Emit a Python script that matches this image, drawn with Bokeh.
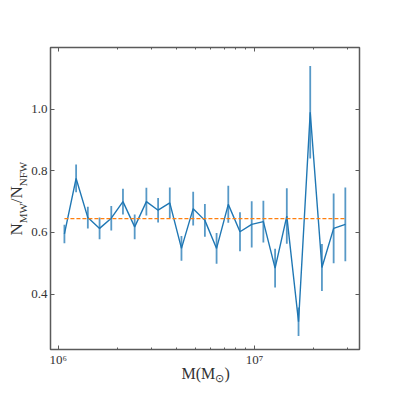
from bokeh.plotting import figure
from bokeh.models import Range1d, LogAxis, LinearAxis, FixedTicker
from bokeh.embed import file_html
from bokeh.resources import INLINE

# Halo mass bin centres (M_sun)
mass = [1.074e6, 1.232e6, 1.414e6, 1.623e6, 1.862e6, 2.136e6, 2.451e6, 2.812e6,
        3.227e6, 3.702e6, 4.246e6, 4.872e6, 5.590e6, 6.413e6, 7.358e6, 8.443e6,
        9.687e6, 1.111e7, 1.275e7, 1.463e7, 1.679e7, 1.926e7, 2.210e7, 2.536e7,
        2.909e7]
# Ratio N_MW / N_NFW
ratio = [0.595, 0.775, 0.648, 0.613, 0.646, 0.700, 0.618, 0.700, 0.672, 0.696,
         0.548, 0.677, 0.639, 0.548, 0.691, 0.602, 0.626, 0.635, 0.484, 0.653,
         0.310, 0.990, 0.486, 0.613, 0.626]
err = [0.030, 0.045, 0.035, 0.035, 0.040, 0.042, 0.040, 0.045, 0.040, 0.050,
       0.040, 0.055, 0.053, 0.050, 0.060, 0.063, 0.075, 0.068, 0.063, 0.090,
       0.046, 0.150, 0.076, 0.113, 0.120]
mean_ratio = 0.645

x_major = [1e6, 1e7]
x_minor = [2e6, 3e6, 4e6, 5e6, 6e6, 7e6, 8e6, 9e6, 2e7, 3e7]
x_labels = {1e6: "10\u2076", 1e7: "10\u2077"}
y_ticks = [0.4, 0.6, 0.8, 1.0]
y_labels = {0.4: "0.4", 0.6: "0.6", 0.8: "0.8", 1.0: "1.0"}

# axis-title pieces (main text and subscripts), anchored along their axis
xtitle_main = {5184000: "M(M", 7253000: ")"}
xtitle_sub = {6665000: "\u2299"}
ytitle_main = {0.6097: "N", 0.7223: "/N"}
ytitle_sub = {0.6623: "MW", 0.7895: "NFW"}

FL, FR, FT, FB = 50, 359, 47, 349
W, H = 391, 391
FONT = "Liberation Serif"
BLUE = "#1f77b4"
ORANGE = "#ff7f0e"
FRAME = "#5a5a5a"
TXT = "#333333"

p = figure(width=W, height=H, x_axis_type="log", output_backend="svg",
           toolbar_location=None,
           x_range=Range1d(10 ** 5.96, 10 ** 7.536),
           y_range=Range1d(0.22, 1.20),
           min_border_left=FL, min_border_right=W - FR,
           min_border_top=FT, min_border_bottom=H - FB)
p.grid.visible = False
p.outline_line_color = FRAME
p.outline_line_width = 1.5
p.background_fill_color = "white"
p.border_fill_color = "white"

lower = [r - e for r, e in zip(ratio, err)]
upper = [r + e for r, e in zip(ratio, err)]
p.segment(x0=mass, y0=lower, x1=mass, y1=upper, line_color=BLUE,
          line_width=1.8, line_alpha=0.75)
p.line(mass, ratio, line_color=BLUE, line_width=1.4)
p.line([mass[0], mass[-1]], [mean_ratio, mean_ratio], line_color=ORANGE,
       line_width=1.3, line_dash="4 2")

def style_axis(ax, show_labels):
    ax.axis_line_color = None
    ax.major_tick_in = 4
    ax.major_tick_out = 0
    ax.minor_tick_in = 2
    ax.minor_tick_out = 0
    ax.major_tick_line_color = FRAME
    ax.minor_tick_line_color = FRAME
    ax.major_label_text_font = FONT
    ax.major_label_text_font_size = "13px"
    ax.major_label_text_color = TXT if show_labels else None
    ax.axis_label = None

xb = p.xaxis[0]
xb.ticker = FixedTicker(ticks=x_major, minor_ticks=x_minor)
xb.major_label_overrides = x_labels
xb.major_label_standoff = 2
style_axis(xb, True)

yl = p.yaxis[0]
yl.ticker = FixedTicker(ticks=y_ticks, minor_ticks=[])
yl.major_label_overrides = y_labels
yl.major_label_standoff = 3
style_axis(yl, True)

xt = LogAxis(ticker=FixedTicker(ticks=x_major, minor_ticks=x_minor))
style_axis(xt, False)
p.add_layout(xt, "above")
yr = LinearAxis(ticker=FixedTicker(ticks=y_ticks, minor_ticks=[]))
style_axis(yr, False)
p.add_layout(yr, "right")

def title_axis(cls, labels, size, standoff, vertical):
    ax = cls(ticker=FixedTicker(ticks=list(labels.keys()), minor_ticks=[]),
             major_label_overrides=labels,
             major_label_text_font=FONT, major_label_text_font_size=f"{size}px",
             major_label_text_color=TXT, major_label_standoff=standoff,
             major_tick_in=0, major_tick_out=0, minor_tick_in=0, minor_tick_out=0,
             axis_line_color=None)
    if vertical:
        ax.major_label_orientation = "vertical"
    return ax

# x-axis title  M(M_sun)
p.add_layout(title_axis(LogAxis, xtitle_main, 16, -5, False), "below")
p.add_layout(title_axis(LogAxis, xtitle_sub, 11, -13, False), "below")
# y-axis title  N_MW / N_NFW
p.add_layout(title_axis(LinearAxis, ytitle_sub, 11, -1, True), "left")
p.add_layout(title_axis(LinearAxis, ytitle_main, 17, -12, True), "left")

open("out.html", "w").write(file_html(p, INLINE))
